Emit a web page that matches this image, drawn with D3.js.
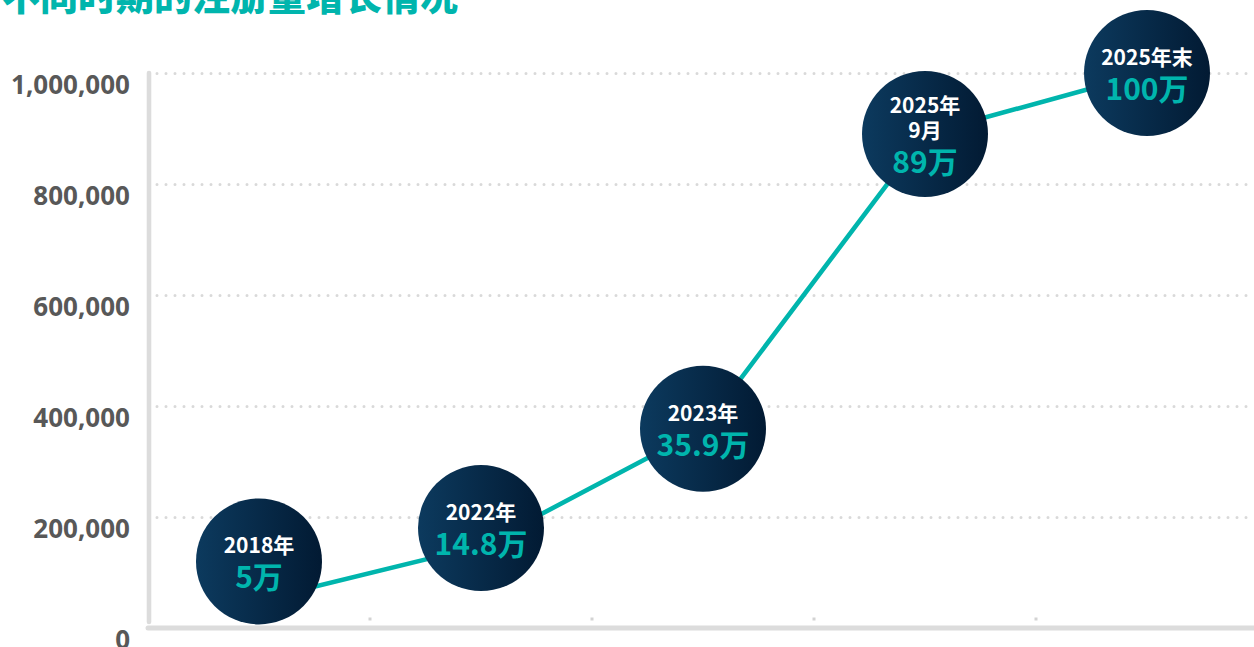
<!DOCTYPE html>
<html>
<head>
<meta charset="utf-8">
<script src="https://cdn.jsdelivr.net/npm/d3@7"></script>
<style>
  html, body { margin: 0; padding: 0; background: #fff; }
  svg { display: block; }
</style>
</head>
<body>
<svg id="chart" width="1254" height="647"></svg>
<script>
// ---- data ----
const title = "不同时期的注册量增长情况";
const categories = ["2018年", "2022年", "2023年", "2025年9月", "2025年末"];
const values = [50000, 148000, 359000, 890000, 1000000];
const periodLabels = [["2018年"], ["2022年"], ["2023年"], ["2025年", "9月"], ["2025年末"]];
const valueLabels = ["5万", "14.8万", "35.9万", "89万", "100万"];
const bubbleAt = [120000, 180000, 359000, 890000, 1000000];
const yTicks = [0, 200000, 400000, 600000, 800000, 1000000];

// ---- chart ----
const W = 1254, H = 647;
const teal = "#00b5ad";
const svg = d3.select("#chart");

const defs = svg.append("defs");
const grad = defs.append("linearGradient").attr("id", "bubbleGrad")
  .attr("x1", "0%").attr("x2", "100%").attr("y1", "0%").attr("y2", "0%");
grad.append("stop").attr("offset", "0%").attr("stop-color", "#0c3a5e");
grad.append("stop").attr("offset", "100%").attr("stop-color", "#021a33");

const x = d3.scaleBand().domain(categories).range([148, 1258]);
const y = d3.scaleLinear().domain([0, 1000000]).range([628, 73]);

// title
svg.append("text")
  .attr("x", 2).attr("y", 10)
  .attr("font-family", "'Noto Sans CJK SC', sans-serif")
  .attr("font-weight", 900)
  .attr("font-size", 38)
  .attr("fill", teal)
  .text(title);

// gridlines
const grid = svg.append("g")
  .attr("transform", "translate(157,0)")
  .call(d3.axisRight(y).tickValues(yTicks.filter(d => d > 0)).tickSize(W - 157).tickFormat(""));
grid.select(".domain").remove();
grid.selectAll(".tick line")
  .attr("stroke", "#d9d9d9")
  .attr("stroke-width", 3)
  .attr("stroke-linecap", "round")
  .attr("stroke-dasharray", "0 9");

// y axis labels
const yAxis = svg.append("g")
  .attr("transform", "translate(149,0)")
  .call(d3.axisLeft(y).tickValues(yTicks).tickSize(0).tickPadding(19).tickFormat(d3.format(",")));
yAxis.select(".domain").remove();
yAxis.selectAll(".tick text")
  .attr("dy", 20)
  .attr("font-family", "'Noto Sans', sans-serif")
  .attr("font-weight", 700)
  .attr("font-size", 26)
  .attr("fill", "#585858");

// vertical axis line
svg.append("line")
  .attr("x1", 149).attr("x2", 149)
  .attr("y1", y(1000000)).attr("y2", 622)
  .attr("stroke", "#dcdcdc").attr("stroke-width", 4.6).attr("stroke-linecap", "round");

// x axis (ticks at band boundaries)
svg.append("line")
  .attr("x1", 148).attr("x2", W + 10)
  .attr("y1", y(0)).attr("y2", y(0))
  .attr("stroke", "#dcdcdc").attr("stroke-width", 5).attr("stroke-linecap", "round");
const boundaries = categories.slice(1).map(c => x(c));
svg.append("g").selectAll("rect").data(boundaries).join("rect")
  .attr("x", d => d - 1.5).attr("y", y(0) - 10.5)
  .attr("width", 3).attr("height", 3)
  .attr("fill", "#d3d3d3");

// line
const cx = c => x(c) + x.bandwidth() / 2;
const line = d3.line().x(d => cx(d.c)).y(d => y(d.v));
const pts = categories.map((c, i) => ({ c, v: values[i] }));
svg.append("path")
  .datum(pts)
  .attr("d", line)
  .attr("fill", "none")
  .attr("stroke", teal)
  .attr("stroke-width", 4.6)
  .attr("stroke-linejoin", "round");

// bubbles
const R = 63;
const bubbles = svg.append("g").selectAll("g").data(categories).join("g")
  .attr("transform", (c, i) => `translate(${cx(c)},${y(bubbleAt[i])})`);
bubbles.append("circle").attr("r", R).attr("fill", "url(#bubbleGrad)");
bubbles.each(function (c, i) {
  const g = d3.select(this);
  const lines = periodLabels[i];
  const span = 25 * (lines.length - 1) + 35;
  const first = 9.3 - span / 2;
  lines.forEach((t, k) => {
    g.append("text")
      .attr("x", 0).attr("y", first + 25 * k)
      .attr("text-anchor", "middle")
      .attr("font-family", "'Noto Sans CJK SC', sans-serif")
      .attr("font-weight", 700)
      .attr("font-size", 21)
      .attr("fill", "#ffffff")
      .text(t);
  });
  g.append("text")
    .attr("x", 0).attr("y", first + 25 * (lines.length - 1) + 35)
    .attr("text-anchor", "middle")
    .attr("font-family", "'Noto Sans CJK SC', sans-serif")
    .attr("font-weight", 700)
    .attr("font-size", 30)
    .attr("fill", teal)
    .text(valueLabels[i]);
});
</script>
</body>
</html>
